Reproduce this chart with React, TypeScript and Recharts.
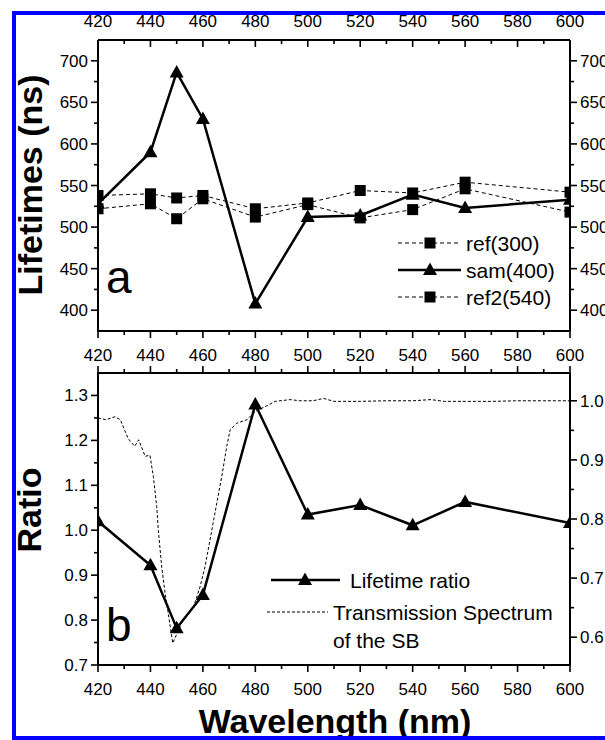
import React from "react";
import { LineChart, Line, XAxis, YAxis, Legend } from "recharts";

const FONT = "Arial, 'Liberation Sans', Helvetica, sans-serif";

// measured wavelengths (nm)
const wavelengths = [420, 440, 450, 460, 480, 500, 520, 540, 560, 600];

// panel a: lifetimes (ns)
const ref300 = [538, 540, 535, 538, 522, 529, 544, 541, 554, 542];
const sam400 = [528, 590, 686, 630, 408, 512, 514, 539, 523, 533];
const ref2540 = [522, 528, 510, 534, 512, 527, 511, 521, 546, 518];

// panel b: lifetime ratio
const lifetimeRatio = [1.02, 0.922, 0.782, 0.856, 1.28, 1.035, 1.056, 1.011, 1.063, 1.016];

// panel b: transmission spectrum of the SB (right axis)
const transWl = [
  420, 423, 426.5, 428.5, 431.5, 434, 435.5, 438, 439.8, 441.1, 442.4, 443, 444.3, 445.6,
  446.8, 448.5, 450, 452, 456.4, 458.9, 460.8, 463.4, 465.3, 467.2, 469.1, 470.4, 472.9,
  476.8, 479.9, 483.7, 487.6, 493.3, 497, 502, 506, 510, 520, 530, 540, 547, 552, 560, 570,
  580, 590, 600,
];
const transValues = [
  0.971, 0.968, 0.973, 0.968, 0.936, 0.923, 0.934, 0.906, 0.908, 0.872, 0.821, 0.781, 0.719,
  0.674, 0.64, 0.59, 0.605, 0.625, 0.651, 0.685, 0.719, 0.781, 0.827, 0.872, 0.923, 0.951,
  0.962, 0.968, 0.982, 0.99, 0.999, 1.002, 1.0, 1.0, 1.004, 0.999, 0.999, 1.0, 1.0, 1.002,
  0.999, 0.999, 0.999, 1.0, 1.0, 1.0,
];

// ticks
const xTicks = [420, 430, 440, 450, 460, 470, 480, 490, 500, 510, 520, 530, 540, 550, 560, 570, 580, 590, 600];
const lifeTicks = [400, 425, 450, 475, 500, 525, 550, 575, 600, 625, 650, 675, 700];
const ratioTicks = [0.7, 0.75, 0.8, 0.85, 0.9, 0.95, 1.0, 1.05, 1.1, 1.15, 1.2, 1.25, 1.3];
const transTicks = [0.6, 0.65, 0.7, 0.75, 0.8, 0.85, 0.9, 0.95, 1.0];

const toPoints = (xs: number[], ys: number[]) => xs.map((x, i) => ({ x, y: ys[i] }));

const ref300Data = toPoints(wavelengths, ref300);
const sam400Data = toPoints(wavelengths, sam400);
const ref2540Data = toPoints(wavelengths, ref2540);
const ratioData = toPoints(wavelengths, lifetimeRatio);
const transData = toPoints(transWl, transValues);

const isMajorX = (v: number) => v % 20 === 0;
const isMajorLife = (v: number) => v % 50 === 0;
const isMajorTenth = (v: number) => Math.round(v * 100) % 10 === 0;

type Side = "top" | "bottom" | "left" | "right";

function axisTick(side: Side, major: (v: number) => boolean, showLabel: boolean, fmt: (v: number) => string, inward = false) {
  return (p: any) => {
    const { x, y, payload } = p;
    const v = payload.value;
    const big = major(v);
    const len = big ? 7 : 4;
    const s = inward ? -1 : 1;
    const tx = { fontFamily: FONT, fontSize: 17, fill: "#000" };
    let ln = null;
    let label = null;
    if (side === "top") {
      ln = <line x1={x} x2={x} y1={y} y2={y - s * len} />;
      if (showLabel && big) label = <text x={x} y={y - 13} textAnchor="middle" {...tx}>{fmt(v)}</text>;
    } else if (side === "bottom") {
      ln = <line x1={x} x2={x} y1={y} y2={y + s * len} />;
      if (showLabel && big) label = <text x={x} y={y + 30} textAnchor="middle" {...tx}>{fmt(v)}</text>;
    } else if (side === "left") {
      ln = <line x1={x} x2={x - s * len} y1={y} y2={y} />;
      if (showLabel && big) label = <text x={x - 10} y={y + 6} textAnchor="end" {...tx}>{fmt(v)}</text>;
    } else {
      ln = <line x1={x} x2={x + s * len} y1={y} y2={y} />;
      if (showLabel && big) label = <text x={x + 10} y={y + 6} textAnchor="start" {...tx}>{fmt(v)}</text>;
    }
    return (
      <g>
        <g stroke="#000" strokeWidth={1.6}>{ln}</g>
        {label}
      </g>
    );
  };
}

const axisLine = { stroke: "#000", strokeWidth: 2 };
const intFmt = (v: number) => String(v);
const oneDec = (v: number) => v.toFixed(1);

const SquareDot = (p: any) => {
  if (p.cx == null || p.cy == null) return <g />;
  return <rect x={p.cx - 5.5} y={p.cy - 5.5} width={11} height={11} fill="#000" />;
};

const TriangleDot = (p: any) => {
  if (p.cx == null || p.cy == null) return <g />;
  const { cx, cy } = p;
  return <path d={`M${cx},${cy - 7.5}L${cx - 7},${cy + 5}L${cx + 7},${cy + 5}Z`} fill="#000" />;
};

const titleStyle = { fontFamily: FONT, fontSize: 34, fontWeight: 700, fill: "#000" };

function TopOverlay() {
  const rows = [
    { y: 243, text: "ref(300)", solid: false, tri: false },
    { y: 270, text: "sam(400)", solid: true, tri: true },
    { y: 297, text: "ref2(540)", solid: false, tri: false },
  ];
  return (
    <svg width={605} height={372} style={{ position: "absolute", left: 0, top: 0 }}>
      {rows.map((r) => (
        <g key={r.text}>
          <line
            x1={398}
            x2={461}
            y1={r.y}
            y2={r.y}
            stroke="#000"
            strokeWidth={r.solid ? 2.5 : 1}
            strokeDasharray={r.solid ? undefined : "4 3"}
          />
          {r.tri ? (
            <path d={`M430,${r.y - 7.5}L423,${r.y + 5}L437,${r.y + 5}Z`} fill="#000" />
          ) : (
            <rect x={424.5} y={r.y - 5.5} width={11} height={11} fill="#000" />
          )}
          <text x={466} y={r.y + 7.5} fontFamily={FONT} fontSize={21} fill="#000">
            {r.text}
          </text>
        </g>
      ))}
      <text x={106} y={293} fontFamily={FONT} fontSize={46} fill="#000">
        a
      </text>
    </svg>
  );
}

function BottomOverlay() {
  return (
    <svg width={605} height={400} style={{ position: "absolute", left: 0, top: 0 }}>
      <line x1={271} x2={340} y1={240} y2={240} stroke="#000" strokeWidth={2.5} />
      <path d="M305,232.5L298,245L312,245Z" fill="#000" />
      <text x={350} y={247.5} fontFamily={FONT} fontSize={21} fill="#000">
        Lifetime ratio
      </text>
      <line x1={267} x2={328} y1={272} y2={272} stroke="#000" strokeWidth={1} strokeDasharray="3 2" />
      <text x={333} y={279.5} fontFamily={FONT} fontSize={21} fill="#000">
        Transmission Spectrum
      </text>
      <text x={333} y={308} fontFamily={FONT} fontSize={21} fill="#000">
        of the SB
      </text>
      <text x={106} y={301} fontFamily={FONT} fontSize={46} fill="#000">
        b
      </text>
    </svg>
  );
}

export default function App() {
  return (
    <div
      style={{
        position: "absolute",
        left: 0,
        top: 0,
        width: 605,
        height: 740,
        overflow: "hidden",
        background: "#fff",
        fontFamily: FONT,
      }}
    >
      <div style={{ position: "absolute", left: 0, top: 0 }}>
        <LineChart width={605} height={372} margin={{ top: 10, right: 0, bottom: 11, left: 48 }}>
          <XAxis
            xAxisId="t"
            orientation="top"
            dataKey="x"
            type="number"
            domain={[420, 600]}
            ticks={xTicks}
            interval={0}
            height={30}
            tickSize={0}
            tickMargin={0}
            tickLine={false}
            axisLine={axisLine}
            allowDataOverflow
            tick={axisTick("top", isMajorX, true, intFmt, true)}
          />
          <XAxis
            xAxisId="b"
            orientation="bottom"
            dataKey="x"
            type="number"
            domain={[420, 600]}
            ticks={xTicks}
            interval={0}
            height={30}
            tickSize={0}
            tickMargin={0}
            tickLine={false}
            axisLine={axisLine}
            allowDataOverflow
            tick={axisTick("bottom", isMajorX, true, intFmt)}
          />
          <YAxis
            yAxisId="l"
            orientation="left"
            type="number"
            domain={[375, 725]}
            ticks={lifeTicks}
            interval={0}
            width={50}
            tickSize={0}
            tickMargin={0}
            tickLine={false}
            axisLine={axisLine}
            allowDataOverflow
            tick={axisTick("left", isMajorLife, true, intFmt)}
            label={() => (
              <text x={42} y={185} transform="rotate(-90 42 185)" textAnchor="middle" {...titleStyle}>
                Lifetimes (ns)
              </text>
            )}
          />
          <YAxis
            yAxisId="r"
            orientation="right"
            type="number"
            domain={[375, 725]}
            ticks={lifeTicks}
            interval={0}
            width={35}
            tickSize={0}
            tickMargin={0}
            tickLine={false}
            axisLine={axisLine}
            allowDataOverflow
            tick={axisTick("right", isMajorLife, true, intFmt)}
          />
          <Line
            xAxisId="b"
            yAxisId="l"
            data={ref300Data}
            dataKey="y"
            type="linear"
            stroke="#000"
            strokeWidth={1}
            strokeDasharray="4 3"
            dot={SquareDot}
            activeDot={false}
            isAnimationActive={false}
          />
          <Line
            xAxisId="b"
            yAxisId="l"
            data={ref2540Data}
            dataKey="y"
            type="linear"
            stroke="#000"
            strokeWidth={1}
            strokeDasharray="4 3"
            dot={SquareDot}
            activeDot={false}
            isAnimationActive={false}
          />
          <Line
            xAxisId="b"
            yAxisId="l"
            data={sam400Data}
            dataKey="y"
            type="linear"
            stroke="#000"
            strokeWidth={2.5}
            dot={TriangleDot}
            activeDot={false}
            isAnimationActive={false}
          />
          <Legend
            layout="vertical"
            align="center"
            verticalAlign="middle"
            content={() => <TopOverlay />}
            wrapperStyle={{ left: 0, top: 0, width: 605, height: 372, pointerEvents: "none" }}
          />
        </LineChart>
      </div>

      <div style={{ position: "absolute", left: 0, top: 340 }}>
        <LineChart width={605} height={400} margin={{ top: 3, right: 0, bottom: 15, left: 48 }}>
          <XAxis
            xAxisId="t"
            orientation="top"
            dataKey="x"
            type="number"
            domain={[420, 600]}
            ticks={xTicks}
            interval={0}
            height={30}
            tickSize={0}
            tickMargin={0}
            tickLine={false}
            axisLine={axisLine}
            allowDataOverflow
            tick={axisTick("top", isMajorX, false, intFmt)}
          />
          <XAxis
            xAxisId="b"
            orientation="bottom"
            dataKey="x"
            type="number"
            domain={[420, 600]}
            ticks={xTicks}
            interval={0}
            height={60}
            tickSize={0}
            tickMargin={0}
            tickLine={false}
            axisLine={axisLine}
            allowDataOverflow
            tick={axisTick("bottom", isMajorX, true, intFmt)}
            label={() => (
              <text x={335} y={393} textAnchor="middle" {...titleStyle}>
                Wavelength (nm)
              </text>
            )}
          />
          <YAxis
            yAxisId="l"
            orientation="left"
            type="number"
            domain={[0.7, 1.35]}
            ticks={ratioTicks}
            interval={0}
            width={50}
            tickSize={0}
            tickMargin={0}
            tickLine={false}
            axisLine={axisLine}
            allowDataOverflow
            tick={axisTick("left", isMajorTenth, true, oneDec)}
            label={() => (
              <text x={41} y={170} transform="rotate(-90 41 170)" textAnchor="middle" {...titleStyle}>
                Ratio
              </text>
            )}
          />
          <YAxis
            yAxisId="r"
            orientation="right"
            type="number"
            domain={[0.553, 1.047]}
            ticks={transTicks}
            interval={0}
            width={35}
            tickSize={0}
            tickMargin={0}
            tickLine={false}
            axisLine={axisLine}
            allowDataOverflow
            tick={axisTick("right", isMajorTenth, true, oneDec)}
          />
          <Line
            xAxisId="b"
            yAxisId="r"
            data={transData}
            dataKey="y"
            type="linear"
            stroke="#000"
            strokeWidth={1}
            strokeDasharray="3 2"
            dot={false}
            activeDot={false}
            isAnimationActive={false}
          />
          <Line
            xAxisId="b"
            yAxisId="l"
            data={ratioData}
            dataKey="y"
            type="linear"
            stroke="#000"
            strokeWidth={2.5}
            dot={TriangleDot}
            activeDot={false}
            isAnimationActive={false}
          />
          <Legend
            layout="vertical"
            align="center"
            verticalAlign="middle"
            content={() => <BottomOverlay />}
            wrapperStyle={{ left: 0, top: 0, width: 605, height: 400, pointerEvents: "none" }}
          />
        </LineChart>
      </div>

      <div
        style={{
          position: "absolute",
          left: 12,
          top: 11,
          width: 700,
          height: 729,
          border: "4px solid #0000ff",
          boxSizing: "border-box",
          pointerEvents: "none",
        }}
      />
    </div>
  );
}
